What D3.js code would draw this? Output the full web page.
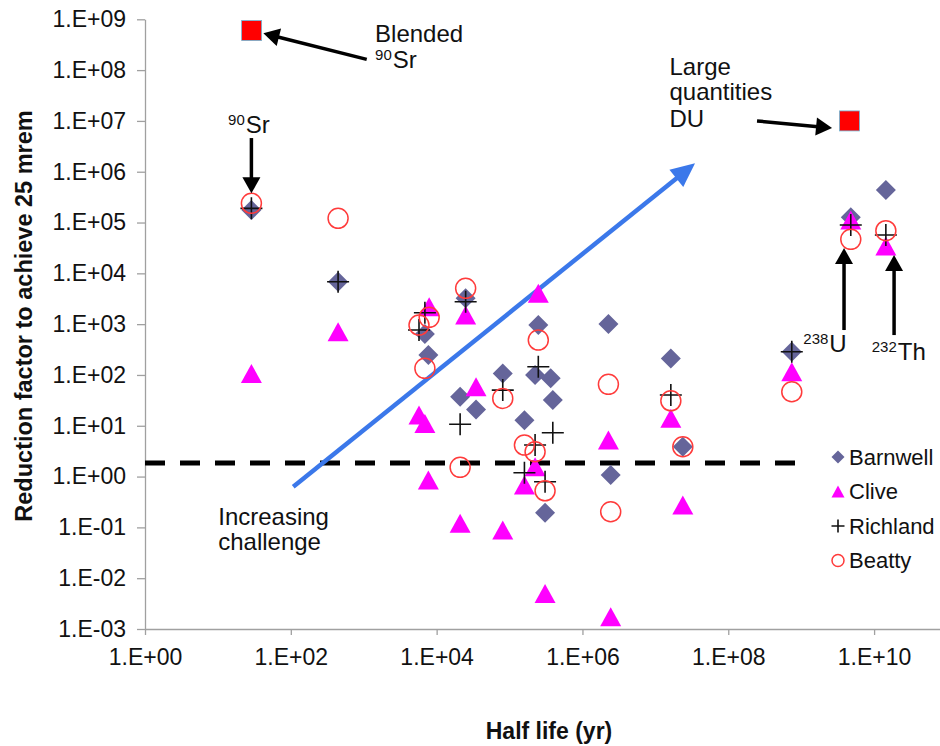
<!DOCTYPE html>
<html><head><meta charset="utf-8">
<script src="https://cdn.jsdelivr.net/npm/d3@7"></script>
<style>
body{margin:0;background:#fff}
svg{display:block}
text{font-family:"Liberation Sans",Arial,sans-serif;fill:#111}
</style>
</head><body>
<svg id="c" width="940" height="746"></svg>
<script>
// ---------- data ----------
const sites = ["Barnwell", "Clive", "Richland", "Beatty"];
const xTickValues = [1, 1e2, 1e4, 1e6, 1e8, 1e10];
const yTickValues = [1e-3, 1e-2, 1e-1, 1, 1e1, 1e2, 1e3, 1e4, 1e5, 1e6, 1e7, 1e8, 1e9];

const barnwellHalfLife = [28.8, 445, 6900, 7700, 21000, 34700, 25000, 80700, 2.48e5, 2.24e5, 3.67e5, 3.92e5, 1.6e5, 3.07e5, 2.27e6, 2.44e6, 1.63e7, 2.38e7, 7.43e8, 4.79e9, 1.45e10];
const barnwellFactor   = [1.76e5, 6840, 638, 247, 37.2, 21.0, 3220, 107, 960, 99.5, 85.7, 32.1, 12.9, 0.194, 1005, 1.07, 212, 3.86, 286, 1.27e5, 4.37e5];

const cliveHalfLife = [28.8, 445, 7900, 5730, 6900, 7700, 25000, 34700, 21000, 80700, 2.48e5, 2.24e5, 1.6e5, 3.07e5, 2.27e6, 2.44e6, 1.63e7, 2.38e7, 7.43e8, 4.79e9, 1.45e10];
const cliveFactor   = [107, 708, 2200, 16.3, 11.1, 0.853, 1510, 58.6, 0.120, 0.0885, 4040, 1.56, 0.681, 0.00502, 5.23, 0.00174, 14.0, 0.275, 116, 1.12e5, 3.44e4];

const richlandHalfLife = [28.8, 445, 6900, 5730, 25000, 21000, 80700, 2.48e5, 3.92e5, 2.24e5, 1.6e5, 3.07e5, 1.63e7, 7.43e8, 4.79e9, 1.45e10];
const richlandFactor   = [1.9e5, 6840, 1680, 766, 2760, 10.7, 50.4, 145, 7.28, 4.17, 1.19, 0.79, 40.2, 286, 8.93e4, 5.67e4];

const beattyHalfLife = [28.8, 445, 7900, 5730, 6900, 25000, 21000, 80700, 2.48e5, 1.6e5, 2.24e5, 3.07e5, 2.27e6, 2.44e6, 1.63e7, 2.38e7, 7.43e8, 4.79e9, 1.45e10];
const beattyFactor   = [2.39e5, 1.21e5, 1360, 960, 135, 5070, 1.52, 34.6, 486, 4.17, 3.08, 0.525, 65.3, 0.203, 31.0, 3.86, 46.7, 4.67e4, 6.9e4];

// highlighted scenarios (red squares)
const specialNames    = ["Blended 90Sr", "Large quantities DU"];
const specialHalfLife = [29, 4.6e9];
const specialFactor   = [6e8, 1e7];

// 25 mrem threshold (dashed line)
const thresholdFactor = 1.86;
const thresholdHalfLife = [1, 9e8];

// trend arrow "Increasing challenge"
const trendHalfLife = [108, 3.5e7];
const trendFactor   = [0.63, 1.46e6];

// black annotation arrows: [fromHalfLife, fromFactor, toHalfLife, toFactor]
const arrowFromHalfLife = [1100, 28.8, 2.48e8, 3.87e9, 1.88e10];
const arrowFromFactor   = [1.63e8, 4.6e6, 1e7, 766, 610];
const arrowToHalfLife   = [42, 28.8, 2.65e9, 3.87e9, 1.88e10];
const arrowToFactor     = [5.3e8, 3.76e5, 7.25e6, 3.15e4, 2.29e4];

// annotation labels: [superscript, main text], anchor in data units (left/baseline)
const labelSup       = ["", "90", "", "", "", "90", "238", "232", "", ""];
const labelMain      = ["Blended", "Sr", "Large", "quantities", "DU", "Sr", "U", "Th", "Increasing", "challenge"];
const labelHalfLife  = [1430, 1430, 1.56e7, 1.56e7, 1.56e7, 13.8, 1.07e9, 9.3e9, 10.1, 10.1];
const labelFactor    = [3.62e8, 1.08e8, 8.0e7, 2.58e7, 7.6e6, 5.86e6, 286, 196, 0.111, 0.0357];

// ---------- chart ----------
const svg = d3.select("#c");
const x = d3.scaleLog().domain([1, 1e11]).range([145, 947]);
const y = d3.scaleLog().domain([1e-3, 1e9]).range([629, 19.3]);

const fmtE = d => {
  const e = Math.round(Math.log10(d));
  return "1.E" + (e < 0 ? "-" : "+") + String(Math.abs(e)).padStart(2, "0");
};
const axisColor = "#a0a0a0";

// y axis
const gy = svg.append("g").attr("transform", "translate(145,0)")
  .call(d3.axisLeft(y).tickValues(yTickValues).tickFormat(fmtE).tickSize(8).tickSizeOuter(0).tickPadding(11));
// x axis
const gx = svg.append("g").attr("transform", "translate(0,629)")
  .call(d3.axisBottom(x).tickValues(xTickValues).tickFormat(fmtE).tickSize(6).tickSizeOuter(0).tickPadding(14));
[gx, gy].forEach(g => {
  g.select(".domain").attr("stroke", axisColor).attr("stroke-width", 1.3);
  g.selectAll(".tick line").attr("stroke", axisColor).attr("stroke-width", 1.3);
  g.selectAll(".tick text").attr("fill", "#111").style("font-size", "23px")
    .style("font-family", '"Liberation Sans",Arial,sans-serif');
});

// axis titles
svg.append("text").attr("x", 549).attr("y", 739).attr("text-anchor", "middle")
  .style("font-size", "23px").style("font-weight", "bold").text("Half life (yr)");
svg.append("text").attr("transform", "translate(32,316) rotate(-90)").attr("text-anchor", "middle")
  .style("font-size", "23.5px").style("font-weight", "bold").text("Reduction factor to achieve 25 mrem");

// threshold dashed line
svg.append("line")
  .attr("x1", x(thresholdHalfLife[0])).attr("x2", x(thresholdHalfLife[1]))
  .attr("y1", y(thresholdFactor)).attr("y2", y(thresholdFactor))
  .attr("stroke", "#000").attr("stroke-width", 5).attr("stroke-dasharray", "20,15");

// arrow helper
function arrow(p0, p1, color, width, len, hw) {
  const dx = p1[0] - p0[0], dy = p1[1] - p0[1];
  const L = Math.hypot(dx, dy), ux = dx / L, uy = dy / L;
  const bx = p1[0] - ux * len, by = p1[1] - uy * len;
  const nx = -uy, ny = ux;
  svg.append("line").attr("x1", p0[0]).attr("y1", p0[1]).attr("x2", bx + ux * 2).attr("y2", by + uy * 2)
    .attr("stroke", color).attr("stroke-width", width);
  svg.append("path").attr("d", `M${p1[0]},${p1[1]}L${bx + nx * hw},${by + ny * hw}L${bx - nx * hw},${by - ny * hw}Z`)
    .attr("fill", color);
}

// trend arrow
arrow([x(trendHalfLife[0]), y(trendFactor[0])], [x(trendHalfLife[1]), y(trendFactor[1])], "#3b78ea", 4.5, 24, 11);

// markers
const diamond = s => `M0,${-s}L${s},0L0,${s}L${-s},0Z`;
const triangle = (w, h) => `M0,${-h / 2}L${w / 2},${h / 2}L${-w / 2},${h / 2}Z`;
const crossP = s => `M${-s},0H${s}M0,${-s}V${s}`;
const diamondColor = "#65659a";
const triColor = "#ff00ff";
const circleColor = "#ff3b3b";

function pts(hl, f) { return hl.map((h, i) => [h, f[i]]); }

svg.append("g").selectAll("path").data(pts(barnwellHalfLife, barnwellFactor)).join("path")
  .attr("transform", d => `translate(${x(d[0])},${y(d[1])})`).attr("d", diamond(10)).attr("fill", diamondColor);
svg.append("g").selectAll("path").data(pts(cliveHalfLife, cliveFactor)).join("path")
  .attr("transform", d => `translate(${x(d[0])},${y(d[1])})`).attr("d", triangle(21, 19)).attr("fill", triColor);
svg.append("g").selectAll("path").data(pts(richlandHalfLife, richlandFactor)).join("path")
  .attr("transform", d => `translate(${x(d[0])},${y(d[1])})`).attr("d", crossP(11)).attr("stroke", "#111").attr("stroke-width", 1.6).attr("fill", "none");
svg.append("g").selectAll("circle").data(pts(beattyHalfLife, beattyFactor)).join("circle")
  .attr("cx", d => x(d[0])).attr("cy", d => y(d[1])).attr("r", 10).attr("fill", "none")
  .attr("stroke", circleColor).attr("stroke-width", 1.5);

// special red squares
svg.append("g").selectAll("rect").data(pts(specialHalfLife, specialFactor)).join("rect")
  .attr("x", d => x(d[0]) - 10).attr("y", d => y(d[1]) - 10).attr("width", 20).attr("height", 20)
  .attr("fill", "#ff0000").attr("stroke", "#6fb7d6").attr("stroke-width", 0.8);

// black annotation arrows
arrowFromHalfLife.forEach((h, i) => {
  arrow([x(h), y(arrowFromFactor[i])], [x(arrowToHalfLife[i]), y(arrowToFactor[i])], "#000", 3.5, 16, 9);
});

// annotation labels
labelMain.forEach((t, i) => {
  const txt = svg.append("text").attr("x", x(labelHalfLife[i])).attr("y", y(labelFactor[i]))
    .style("font-size", "24px");
  if (labelSup[i]) {
    txt.append("tspan").style("font-size", "15px").attr("dy", -8).text(labelSup[i]);
    txt.append("tspan").attr("dy", 8).attr("dx", 1).text(t);
  } else {
    txt.text(t);
  }
});

// legend
const legendX = 838, legendY0 = 457, legendStep = 34.5;
const lg = svg.append("g");
sites.forEach((s, i) => {
  const cy = legendY0 + i * legendStep;
  const g = lg.append("g").attr("transform", `translate(${legendX},${cy})`);
  if (i === 0) g.append("path").attr("d", diamond(6.5)).attr("fill", diamondColor);
  if (i === 1) g.append("path").attr("d", triangle(13, 12)).attr("fill", triColor);
  if (i === 2) g.append("path").attr("d", crossP(6.5)).attr("stroke", "#111").attr("stroke-width", 1.6);
  if (i === 3) g.append("circle").attr("r", 6).attr("fill", "none").attr("stroke", circleColor).attr("stroke-width", 1.5);
  lg.append("text").attr("x", legendX + 11).attr("y", cy).attr("dy", "0.36em")
    .style("font-size", "22px").text(s);
});
</script>
</body></html>
